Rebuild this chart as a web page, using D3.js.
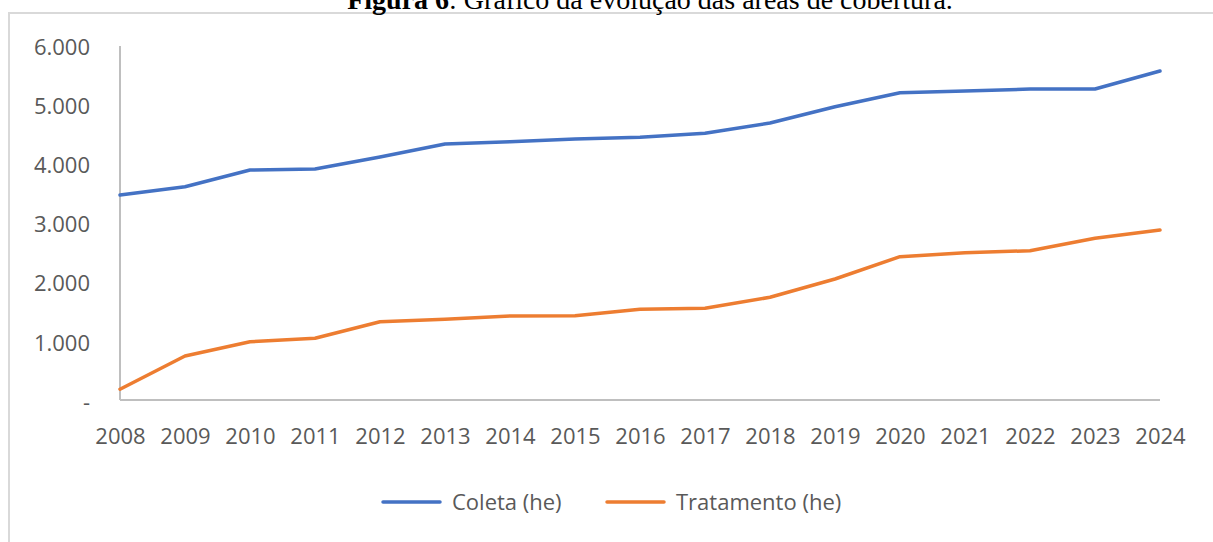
<!DOCTYPE html>
<html>
<head>
<meta charset="utf-8">
<script src="https://cdn.jsdelivr.net/npm/d3@7"></script>
<style>
  body { margin: 0; background: #fff; }
  svg { display: block; }
</style>
</head>
<body>
<div id="chart"></div>
<script>
const chart_width = 1213;
const chart_height = 542;

const coleta_color = '#4472C4';
const tratamento_color = '#ED7D31';
const axis_color = '#BFBFBF';
const label_color = '#595959';

// data (hectares)
var years = ['2008','2009','2010','2011','2012','2013','2014','2015','2016','2017','2018','2019','2020','2021','2022','2023','2024'];
var coleta = [3465, 3605, 3887, 3904, 4107, 4327, 4365, 4411, 4440, 4507, 4681, 4957, 5193, 5222, 5256, 5256, 5560];
var tratamento = [181, 744, 985, 1043, 1323, 1364, 1420, 1425, 1533, 1550, 1736, 2045, 2422, 2489, 2523, 2733, 2873];
var y_ticks = [0, 1000, 2000, 3000, 4000, 5000, 6000];
var series_names = ['Coleta (he)', 'Tratamento (he)'];

var svg = d3.select('#chart')
            .append('svg')
            .attr('width', chart_width)
            .attr('height', chart_height)

// chart frame (only top and left visible in the crop)
svg.append('path')
    .attr('d', 'M9,' + chart_height + 'V13H' + chart_width)
    .attr('fill', 'none')
    .attr('stroke', '#D9D9D9')
    .attr('stroke-width', 2)

// caption, cut at the top
var title = svg.append('text')
    .attr('x', 650)
    .attr('y', 9)
    .attr('text-anchor', 'middle')
    .style('font-family', '"Liberation Serif", "Times New Roman", serif')
    .style('font-size', '28px')
    .attr('fill', '#000')
title.append('tspan').style('font-weight', 'bold').text('Figura 6')
title.append('tspan').text(': Gráfico da evolução das áreas de cobertura.')

var xScale = d3.scalePoint()
                .domain(years)
                .range([120, 1160]);
var yScale = d3.scaleLinear()
                .domain([0, 6000])
                .range([400, 45]);

var ptBR = d3.formatLocale({decimal: ',', thousands: '.', grouping: [3], currency: ['', '']});
var fmt = ptBR.format(',.0f');

// y axis labels
var yAxis = svg.append('g')
    .attr('transform', 'translate(120,0)')
    .call(d3.axisLeft(yScale)
        .tickValues(y_ticks)
        .tickSize(0)
        .tickPadding(30)
        .tickFormat(function(d){ return d == 0 ? '-' : fmt(d); }))
yAxis.select('.domain').remove();
yAxis.selectAll('text')
    .attr('dy', '0.42em')
    .style('font-family', '"Open Sans", "Noto Sans", sans-serif')
    .style('font-size', '22px')
    .attr('fill', label_color)

// x axis labels
var xAxis = svg.append('g')
    .attr('transform', 'translate(0,400)')
    .call(d3.axisBottom(xScale).tickSize(0).tickPadding(28))
xAxis.select('.domain').remove();
xAxis.selectAll('text')
    .style('font-family', '"Open Sans", "Noto Sans", sans-serif')
    .style('font-size', '22px')
    .attr('fill', label_color)

// axis lines
svg.append('line')
    .attr('x1', 120).attr('x2', 120)
    .attr('y1', yScale(6000) + 1).attr('y2', yScale(0))
    .attr('stroke', axis_color).attr('stroke-width', 2)
svg.append('line')
    .attr('x1', 120).attr('x2', 1160)
    .attr('y1', yScale(0)).attr('y2', yScale(0))
    .attr('stroke', axis_color).attr('stroke-width', 2)

var line = d3.line()
    .x(function(d, i){ return xScale(years[i]); })
    .y(function(d){ return yScale(d); })

svg.append('path')
    .datum(coleta)
    .attr('d', line)
    .attr('fill', 'none')
    .attr('stroke', coleta_color)
    .attr('stroke-width', 3.5)
    .attr('stroke-linejoin', 'round')
    .attr('stroke-linecap', 'round')

svg.append('path')
    .datum(tratamento)
    .attr('d', line)
    .attr('fill', 'none')
    .attr('stroke', tratamento_color)
    .attr('stroke-width', 3.5)
    .attr('stroke-linejoin', 'round')
    .attr('stroke-linecap', 'round')

// legend
var legend_x = [383, 607];
var legend_colors = [coleta_color, tratamento_color];
var legend = svg.append('g')
    .selectAll('.legend_item')
    .data(series_names)
    .enter()
    .append('g')
    .attr('class', 'legend_item')
    .attr('transform', function(d, i){ return 'translate(' + legend_x[i] + ',502)'; })
legend.append('line')
    .attr('x1', 0).attr('x2', 57)
    .attr('stroke', function(d, i){ return legend_colors[i]; })
    .attr('stroke-width', 3.5)
    .attr('stroke-linecap', 'round')
legend.append('text')
    .attr('x', 69)
    .attr('dy', '0.36em')
    .style('font-family', '"Open Sans", "Noto Sans", sans-serif')
    .style('font-size', '22px')
    .attr('fill', label_color)
    .text(function(d){ return d; })
</script>
</body>
</html>
